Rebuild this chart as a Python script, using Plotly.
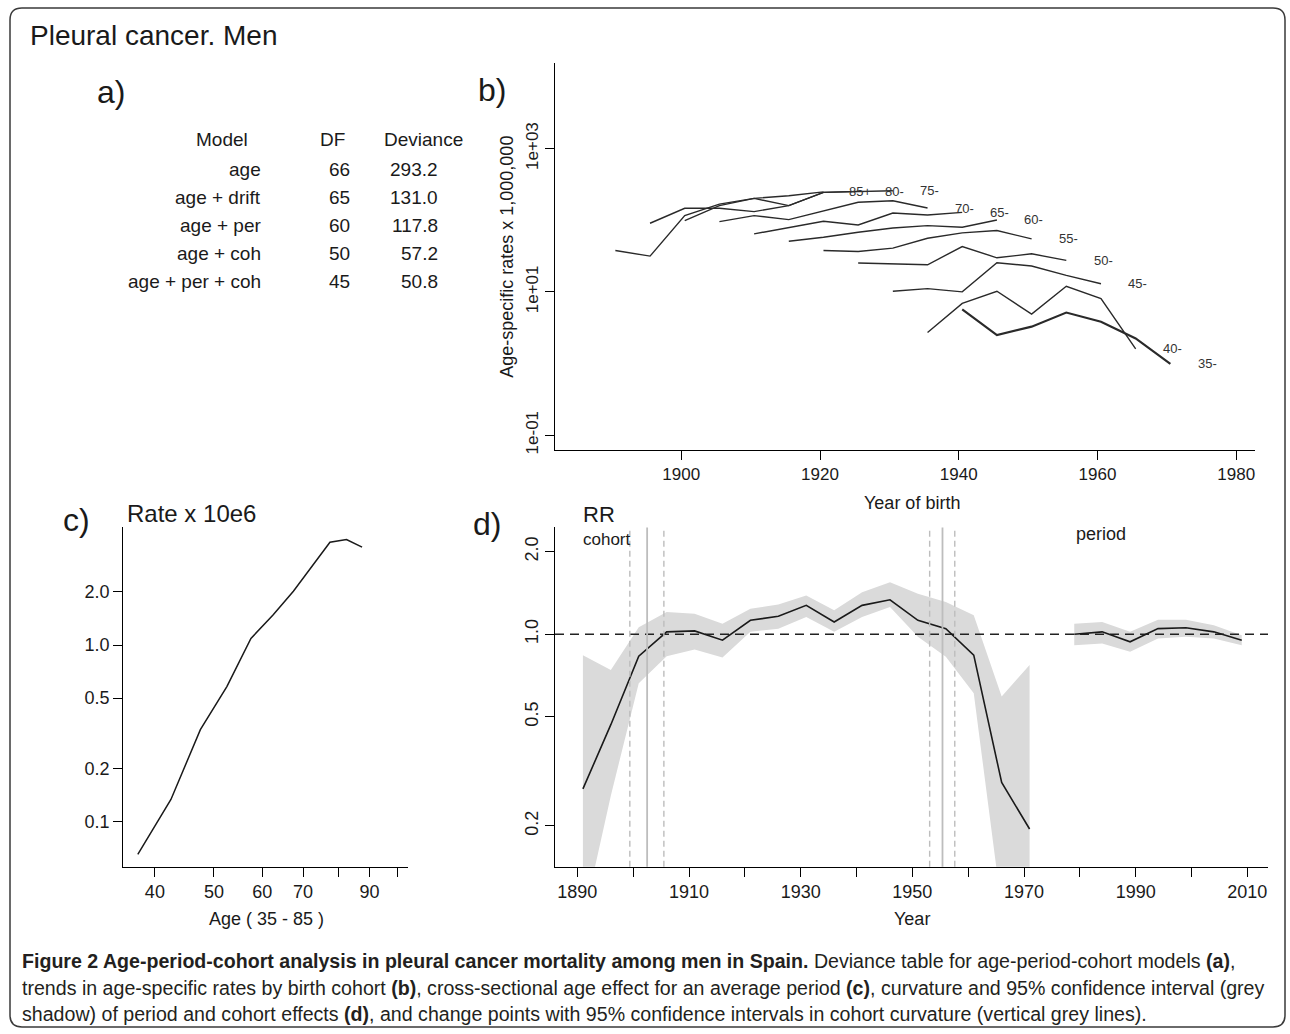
import numpy as np
import plotly.graph_objects as go

W, H = 1290, 1034
FONT = "Liberation Sans, Arial, Helvetica, sans-serif"
CAPTION_FONT = "Liberation Sans, Arial, sans-serif"
INK = "#1a1a1a"

# ---------------- panel a: deviance table ----------------
MODELS = ["age", "age + drift", "age + per", "age + coh", "age + per + coh"]
DF = [66, 65, 60, 50, 45]
DEVIANCE = [293.2, 131.0, 117.8, 57.2, 50.8]

# ---------------- panel b: age-specific rates by birth cohort ----------------
AGE_GROUPS = [35, 40, 45, 50, 55, 60, 65, 70, 75, 80, 85]
AGE_LABELS = ["35-", "40-", "45-", "50-", "55-", "60-", "65-", "70-", "75-", "80-", "85+"]
PERIOD_MIDS = [1978, 1983, 1988, 1993, 1998, 2003, 2008]
RATES_35 = [5.7, 2.5, 3.27, 5.15, 3.83, 2.24, 0.99]
RATES_40 = [2.72, 6.9, 10.2, 4.89, 12.0, 8.07, 1.6]
RATES_45 = [10.2, 11.1, 10.0, 25.5, 23.0, 17.0, 13.0]
RATES_50 = [25.3, 24.7, 23.9, 43.0, 29.9, 34.0, 27.5]
RATES_55 = [37.8, 36.6, 40.8, 56.0, 66.7, 71.8, 55.0]
RATES_60 = [51.0, 58.0, 68.0, 78.0, 84.0, 80.0, 101.0]
RATES_65 = [64.6, 80.0, 96.8, 86.0, 126.0, 118.6, 129.0]
RATES_70 = [95.7, 116.0, 102.0, 136.0, 178.0, 187.0, 148.0]
RATES_75 = [98.6, 160.0, 202.0, 160.0, 245.0, 249.0, 258.0]
RATES_80 = [90.8, 147.0, 147.0, 132.0, 160.0, 245.0, 253.0]
RATES_85 = [37.8, 31.6, 116.0, 168.0, 202.0, 220.0, 249.0]
B_XTICKS = [1900, 1920, 1940, 1960, 1980]
B_YTICKS = [0.1, 10, 1000]
B_YTICKTEXT = ["1e-01", "1e+01", "1e+03"]

# ---------------- panel c: age effect ----------------
AGE_MIDS = [37.5, 42.5, 47.5, 52.5, 57.5, 62.5, 67.5, 72.5, 77.5, 82.5, 87.5]
AGE_EFFECT = [0.065, 0.133, 0.331, 0.581, 1.09, 1.48, 2.02, 2.83, 3.83, 3.97, 3.59]
C_XTICKS = [40, 50, 60, 70, 80, 90, 100]
C_XTICKTEXT = ["40", "50", "60", "70", "", "90", ""]
C_YTICKS = [0.1, 0.2, 0.5, 1.0, 2.0]
C_YTICKTEXT = ["0.1", "0.2", "0.5", "1.0", "2.0"]

# ---------------- panel d: cohort and period curvature ----------------
COHORT_YEARS = [1891, 1896, 1901, 1906, 1911, 1916, 1921, 1926, 1931,
                1936, 1941, 1946, 1951, 1956, 1961, 1966, 1971]
COHORT_RR = [0.273, 0.468, 0.832, 1.02, 1.028, 0.951, 1.124, 1.162, 1.274,
             1.108, 1.274, 1.335, 1.124, 1.048, 0.839, 0.288, 0.195]
COHORT_RR_LO = [0.09, 0.258, 0.662, 0.832, 0.88, 0.823, 1.02, 1.048, 1.155,
                1.02, 1.155, 1.256, 0.978, 0.828, 0.609, 0.10, 0.05]
COHORT_RR_HI = [0.839, 0.741, 1.06, 1.205, 1.188, 1.092, 1.238, 1.284, 1.384,
                1.222, 1.423, 1.546, 1.403, 1.31, 1.172, 0.593, 0.772]
PERIOD_YEARS = [1979, 1984, 1989, 1994, 1999, 2004, 2009]
PERIOD_RR = [1.0, 1.02, 0.938, 1.048, 1.056, 1.02, 0.951]
PERIOD_RR_LO = [0.912, 0.925, 0.863, 0.964, 0.978, 0.964, 0.912]
PERIOD_RR_HI = [1.092, 1.108, 1.02, 1.13, 1.13, 1.078, 0.992]
CHANGE_POINTS = [1902.5, 1955.4]
CHANGE_POINTS_LO = [1899.4, 1953.1]
CHANGE_POINTS_HI = [1905.5, 1957.6]
RR_REFERENCE = 1.0
D_XTICKS = list(range(1890, 2011, 10))
D_XTICKTEXT = [str(y) if (y - 1890) % 20 == 0 else "" for y in D_XTICKS]
D_YTICKS = [0.2, 0.5, 1.0, 2.0]
D_YTICKTEXT = ["0.2", "0.5", "1.0", "2.0"]

CAPTION = [
    "<b>Figure 2 Age-period-cohort analysis in pleural cancer mortality among men in Spain.</b> "
    "Deviance table for age-period-cohort models <b>(a)</b>,",
    "trends in age-specific rates by birth cohort <b>(b)</b>, cross-sectional age effect for an "
    "average period <b>(c)</b>, curvature and 95% confidence interval (grey",
    "shadow) of period and cohort effects <b>(d)</b>, and change points with 95% confidence "
    "intervals in cohort curvature (vertical grey lines).",
]

# ------------------------------------------------------------------
RATES_B = [RATES_35, RATES_40, RATES_45, RATES_50, RATES_55, RATES_60,
           RATES_65, RATES_70, RATES_75, RATES_80, RATES_85]


def px(x):
    return x / W


def py(y):
    return 1 - y / H


fig = go.Figure()

# panel b lines
for age, lab, rates in zip(AGE_GROUPS, AGE_LABELS, RATES_B):
    cohorts = [p - (age + 2.5) for p in PERIOD_MIDS]
    fig.add_trace(go.Scatter(
        x=cohorts, y=rates, mode="lines", xaxis="x", yaxis="y",
        line=dict(color="#2a2a2a", width=2.2 if age == 35 else 1.4),
        hoverinfo="skip"))
    fig.add_annotation(x=cohorts[-1] + 5.3, y=np.log10(rates[-1]), xref="x", yref="y",
                       text=lab, showarrow=False, xanchor="center", yanchor="middle",
                       font=dict(family=FONT, size=13, color="#333333"))

# panel c line
fig.add_trace(go.Scatter(x=AGE_MIDS, y=AGE_EFFECT, mode="lines", xaxis="x2", yaxis="y2",
                         line=dict(color="#1a1a1a", width=1.5), hoverinfo="skip"))

# panel d bands
fig.add_trace(go.Scatter(x=COHORT_YEARS + COHORT_YEARS[::-1],
                         y=COHORT_RR_HI + COHORT_RR_LO[::-1],
                         fill="toself", fillcolor="#dadada", line=dict(width=0),
                         mode="lines", xaxis="x3", yaxis="y3", hoverinfo="skip"))
fig.add_trace(go.Scatter(x=PERIOD_YEARS + PERIOD_YEARS[::-1],
                         y=PERIOD_RR_HI + PERIOD_RR_LO[::-1],
                         fill="toself", fillcolor="#dadada", line=dict(width=0),
                         mode="lines", xaxis="x3", yaxis="y3", hoverinfo="skip"))

D_XRANGE = [1886.0, 2013.7]
fig.add_trace(go.Scatter(x=D_XRANGE, y=[RR_REFERENCE, RR_REFERENCE], mode="lines",
                         xaxis="x3", yaxis="y3",
                         line=dict(color="#222222", width=1.6, dash="9px,6px"), hoverinfo="skip"))
fig.add_trace(go.Scatter(x=COHORT_YEARS, y=COHORT_RR, mode="lines", xaxis="x3", yaxis="y3",
                         line=dict(color="#1a1a1a", width=1.6), hoverinfo="skip"))
fig.add_trace(go.Scatter(x=PERIOD_YEARS, y=PERIOD_RR, mode="lines", xaxis="x3", yaxis="y3",
                         line=dict(color="#1a1a1a", width=1.6), hoverinfo="skip"))

shapes = []
for cp, lo, hi in zip(CHANGE_POINTS, CHANGE_POINTS_LO, CHANGE_POINTS_HI):
    shapes.append(dict(type="line", xref="x3", yref="y3 domain", x0=cp, x1=cp, y0=0, y1=1,
                       line=dict(color="#bdbdbd", width=1.8)))
    for v in (lo, hi):
        shapes.append(dict(type="line", xref="x3", yref="y3 domain", x0=v, x1=v, y0=0, y1=1,
                           line=dict(color="#bdbdbd", width=1.4, dash="6px,4px")))

# rounded outer frame
x0, x1, y0, y1, r = 10, 1285, 8, 1032, 12
path = (f"M {px(x0 + r)} {py(y0)} L {px(x1 - r)} {py(y0)} Q {px(x1)} {py(y0)} {px(x1)} {py(y0 + r)} "
        f"L {px(x1)} {py(y1 - r)} Q {px(x1)} {py(y1)} {px(x1 - r)} {py(y1)} "
        f"L {px(x0 + r)} {py(y1)} Q {px(x0)} {py(y1)} {px(x0)} {py(y1 - r)} "
        f"L {px(x0)} {py(y0 + r)} Q {px(x0)} {py(y0)} {px(x0 + r)} {py(y0)} Z")
shapes.append(dict(type="path", xref="paper", yref="paper", path=path,
                   line=dict(color="#3a3a3a", width=1.5), layer="below"))


def paper_text(text, x, y, size, xanchor="center", yanchor="middle", textangle=0,
               family=FONT, color=INK):
    fig.add_annotation(x=px(x), y=py(y), xref="paper", yref="paper", text=text,
                       showarrow=False, xanchor=xanchor, yanchor=yanchor,
                       textangle=textangle, font=dict(family=family, size=size, color=color))


paper_text("Pleural cancer. Men", 28, 36, 28, xanchor="left")
paper_text("a)", 111, 92, 32)
paper_text("b)", 492, 90, 32)
paper_text("c)", 76, 523, 32)
paper_text("d)", 487, 527, 32)

# table
paper_text("Model", 222, 140, 19)
paper_text("DF", 332, 140, 19)
paper_text("Deviance", 423, 140, 19)
row_y = [170, 198.3, 226.7, 255, 283.3]
for m, d, dev, yy in zip(MODELS, DF, DEVIANCE, row_y):
    paper_text(m, 263, yy, 19, xanchor="right")
    paper_text(str(d), 352, yy, 19, xanchor="right")
    paper_text(f"{dev:.1f}", 440, yy, 19, xanchor="right")

# axis titles and panel texts
paper_text("Age-specific rates x 1,000,000", 507, 258, 18, textangle=-90)
paper_text("Year of birth", 912, 505, 18)
paper_text("Rate x 10e6", 125, 516, 24, xanchor="left")
paper_text("Age ( 35 - 85 )", 266, 923, 18)
paper_text("RR", 581, 517, 22, xanchor="left")
paper_text("cohort", 581, 542, 17, xanchor="left")
paper_text("period", 1101, 537, 18)
paper_text("Year", 912, 923, 18)

for i, line in enumerate(CAPTION):
    paper_text(line, 20, [966, 993, 1019][i], 19.6, xanchor="left", family=CAPTION_FONT,
               color="#231f20")

axis_common = dict(showline=True, linecolor="black", linewidth=1.2, ticks="outside",
                   ticklen=9, tickwidth=1.2, tickcolor="black", showgrid=False,
                   zeroline=False, mirror=False)

fig.update_layout(
    width=W, height=H, margin=dict(l=0, r=0, t=0, b=0),
    paper_bgcolor="white", plot_bgcolor="white", showlegend=False, hovermode=False,
    xaxis=dict(domain=[px(555), px(1255)], anchor="y", range=[1881.8, 1982.7],
               tickvals=B_XTICKS, tickfont=dict(family=FONT, size=17, color=INK), **axis_common),
    yaxis=dict(domain=[py(452), py(63)], anchor="x", type="log", range=[-1.204, 4.199],
               tickvals=B_YTICKS, ticktext=B_YTICKTEXT, tickangle=-90,
               tickfont=dict(family=FONT, size=17, color=INK), **axis_common),
    xaxis2=dict(domain=[px(123.3), px(408.3)], anchor="y2", type="log",
                range=[np.log10(35.5), np.log10(104.2)],
                tickvals=C_XTICKS, ticktext=C_XTICKTEXT,
                tickfont=dict(family=FONT, size=18, color=INK), **axis_common),
    yaxis2=dict(domain=[py(871), py(530)], anchor="x2", type="log",
                range=[-1.258, 0.667], tickvals=C_YTICKS, ticktext=C_YTICKTEXT,
                tickfont=dict(family=FONT, size=18, color=INK), **axis_common),
    xaxis3=dict(domain=[px(555), px(1268)], anchor="y3", range=D_XRANGE,
                tickvals=D_XTICKS, ticktext=D_XTICKTEXT,
                tickfont=dict(family=FONT, size=18, color=INK), **axis_common),
    yaxis3=dict(domain=[py(871), py(530)], anchor="x3", type="log",
                range=[np.log10(0.142), np.log10(2.45)],
                tickvals=D_YTICKS, ticktext=D_YTICKTEXT, tickangle=-90,
                tickfont=dict(family=FONT, size=18, color=INK), **axis_common),
    shapes=shapes,
)

fig.write_html("out.html", config={"displayModeBar": False},
               post_script="document.body.style.margin='0px';"
                           "document.body.style.overflow='hidden';")
